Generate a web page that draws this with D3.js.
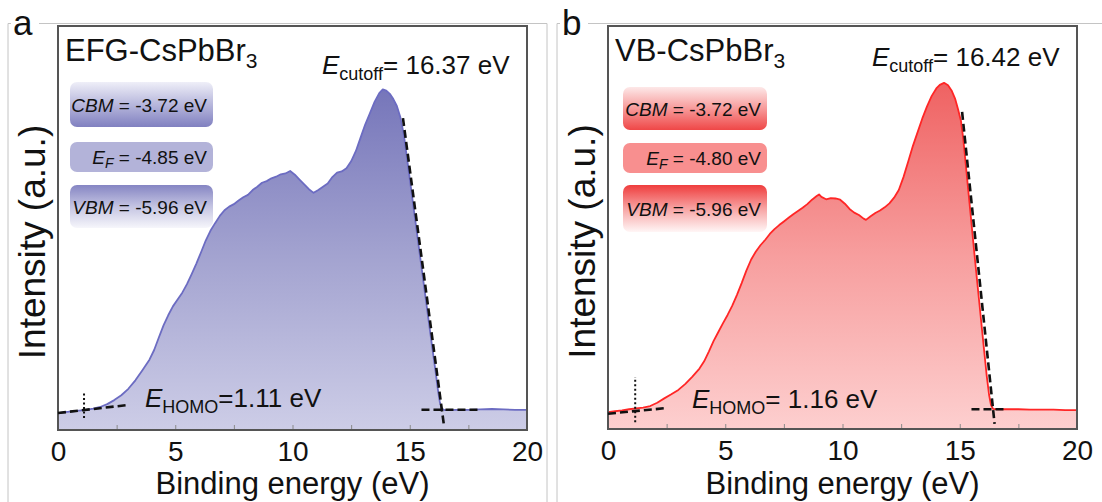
<!DOCTYPE html>
<html>
<head>
<meta charset="utf-8">
<script src="https://cdn.jsdelivr.net/npm/d3@7"></script>
<style>
  html, body { margin: 0; padding: 0; background: #fff; }
  svg text { font-family: "Liberation Sans", Arial, sans-serif; fill: #111; }
</style>
</head>
<body>
<svg id="chart" width="1102" height="502"></svg>
<script>
// UPS spectra: binding energy (eV) vs. intensity (a.u.)
const energyA = [0.00,0.30,0.60,0.90,1.20,1.50,1.80,2.10,2.40,2.70,3.00,3.30,3.60,3.90,4.10,4.30,4.50,4.70,4.90,5.10,5.30,5.50,5.70,5.90,6.10,6.30,6.50,6.70,6.90,7.10,7.30,7.50,7.70,7.90,8.10,8.30,8.50,8.70,8.90,9.10,9.30,9.50,9.70,9.90,10.10,10.30,10.50,10.70,10.90,11.10,11.30,11.50,11.70,11.90,12.10,12.30,12.50,12.70,12.90,13.10,13.30,13.50,13.70,13.85,14.00,14.15,14.30,14.45,14.60,14.75,14.90,15.05,15.20,15.35,15.50,15.65,15.80,15.95,16.10,16.20,16.28,16.36,16.50,17.00,17.50,18.00,18.50,19.00,19.50,20.00];
const intensityA = [4.2,4.4,4.6,4.8,5.0,5.3,5.7,6.4,7.4,8.6,10.2,12.3,14.8,17.4,19.8,22.9,25.9,28.4,30.6,32.3,34.0,36.1,38.6,41.2,44.0,46.9,49.3,51.2,53.0,54.4,55.3,55.9,56.8,57.6,58.2,59.4,60.2,61.2,61.6,62.3,62.7,63.3,63.5,64.1,63.2,62.0,60.8,59.6,58.7,59.4,60.2,61.0,62.6,63.7,64.0,64.8,66.5,69.0,72.3,75.6,78.4,81.2,83.4,84.3,84.0,83.2,81.9,80.2,77.4,73.0,66.5,60.0,53.4,46.9,40.4,33.8,27.3,20.8,14.5,10.0,7.0,5.3,4.9,5.0,5.0,5.1,5.2,5.1,5.0,5.0];

const energyB = [0.00,0.30,0.60,0.90,1.20,1.50,1.80,2.10,2.40,2.70,3.00,3.30,3.60,3.90,4.10,4.30,4.50,4.70,4.90,5.10,5.30,5.50,5.70,5.90,6.10,6.30,6.50,6.70,6.90,7.10,7.30,7.50,7.70,7.90,8.10,8.30,8.50,8.70,8.90,9.00,9.10,9.30,9.50,9.70,9.90,10.10,10.30,10.50,10.70,10.90,11.00,11.20,11.40,11.60,11.80,12.00,12.20,12.40,12.60,12.80,13.00,13.20,13.40,13.60,13.80,14.00,14.15,14.33,14.50,14.65,14.80,14.93,15.05,15.15,15.25,15.35,15.45,15.55,15.65,15.75,15.85,15.95,16.05,16.15,16.25,16.33,16.42,16.60,17.00,17.50,18.00,18.50,19.00,19.50,20.00];
const intensityB = [4.2,4.4,4.6,4.9,5.1,5.3,5.7,6.5,7.6,8.6,9.7,11.2,13.0,15.0,16.8,19.2,21.8,24.0,26.2,28.3,30.6,33.3,36.2,39.3,42.0,44.0,45.6,46.9,48.4,49.6,50.6,51.5,52.4,53.3,54.1,54.9,55.8,56.9,57.8,58.2,57.6,57.0,57.3,57.2,56.9,55.9,54.6,53.7,53.1,52.2,51.9,52.8,53.6,54.2,55.0,56.0,57.4,59.3,62.5,66.3,70.2,73.6,77.0,80.0,82.6,84.5,85.4,85.9,85.3,84.0,82.0,79.3,76.5,72.0,66.0,60.0,54.0,48.0,42.0,36.2,30.4,24.6,18.9,13.2,8.5,6.0,5.0,4.9,4.9,4.9,4.8,4.8,4.8,4.7,4.7];

const xTickValues = [0, 2.5, 5, 7.5, 10, 12.5, 15, 17.5, 20];
const panelLetters = ["a", "b"];
const sampleNames = ["EFG-CsPbBr", "VB-CsPbBr"];
const cutoffValues = [16.37, 16.42];
const homoValues = [1.11, 1.16];
const homoLabels = ["=1.11 eV", "= 1.16 eV"];
const cbmValues = ["-3.72", "-3.72"];
const efValues = ["-4.85", "-4.80"];
const vbmValues = ["-5.96", "-5.96"];

// secondary-edge tangent (energy, intensity) top point, baseline level, left baseline fit
const tangentTopE = [14.71, 15.10];
const tangentTopI = [77.2, 78.7];
const edgeBaseI = [5.0, 4.9];
const leftFitE = [3.0, 2.5];
const leftFitI0 = [4.2, 3.8];
const leftFitI1 = [6.2, 5.2];
const rightFitE = [[15.5, 17.9], [15.5, 16.9]];
const homoMarkI = [[3.0, 9.4], [1.7, 12.9]];

const svg = d3.select("#chart");
const defs = svg.append("defs");

// panel layout and palette
const panels = [
  { left: 58, right: 527, top: 26, bottom: 430, frameX: 8,
    line: "#6c6cc2", fillTop: "#7474b9", fillMid: "#a3a3d0", fillBot: "#cdcde7",
    cbm: ["#efeff8", "#b7b7dc", "#8080c0"], ef: "#b3b3d9", vbm: ["#8585c3", "#c4c4e2", "#f6f6fb"],
    boxX: 70, boxW: 143, boxes: [[82, 45], [142, 30], [185, 43]],
    cutX: 322, cutY: 74, homoX: 145, homoY: 407 },
  { left: 608, right: 1077, top: 26, bottom: 429, frameX: 557,
    line: "#ff2626", fillTop: "#ef6262", fillMid: "#f79e9e", fillBot: "#fdcfcf",
    cbm: ["#fde8e8", "#f79a9a", "#ef4747"], ef: "#f88f8f", vbm: ["#ef3d3d", "#f7a3a3", "#fff6f6"],
    boxX: 623, boxW: 144, boxes: [[87, 43], [143, 30], [185, 47]],
    cutX: 872, cutY: 66, homoX: 692, homoY: 408 }
];

const series = [
  energyA.map((e, i) => [e, intensityA[i]]),
  energyB.map((e, i) => [e, intensityB[i]])
];

panels.forEach((p, k) => {
  const x = d3.scaleLinear().domain([0, 20]).range([p.left, p.right]);
  const y = d3.scaleLinear().domain([0, 100]).range([p.bottom, p.top]);
  const g = svg.append("g");

  // light outer border of the panel
  g.append("path")
    .attr("d", `M${p.frameX},502 V${p.top - 2.5} H${k === 0 ? p.frameX + 539 : 1102}` + (k === 0 ? ` V502` : ""))
    .attr("fill", "none").attr("stroke", "#c4c4c4").attr("stroke-width", 1);

  // area gradient
  const gid = "fill" + k;
  const lg = defs.append("linearGradient").attr("id", gid)
    .attr("gradientUnits", "userSpaceOnUse")
    .attr("x1", 0).attr("x2", 0).attr("y1", y(86)).attr("y2", y(0));
  lg.append("stop").attr("offset", "0%").attr("stop-color", p.fillTop);
  lg.append("stop").attr("offset", "50%").attr("stop-color", p.fillMid);
  lg.append("stop").attr("offset", "100%").attr("stop-color", p.fillBot);

  const data = series[k];
  const area = d3.area().x(d => x(d[0])).y0(y(0)).y1(d => y(d[1]));
  g.append("path").datum(data).attr("d", area).attr("fill", `url(#${gid})`);

  const outline = [[0, 0]].concat(data, [[20, 0]]);
  const line = d3.line().x(d => x(d[0])).y(d => y(d[1]));
  g.append("path").datum(outline).attr("d", line)
    .attr("fill", "none").attr("stroke", p.line).attr("stroke-width", 1.8)
    .attr("stroke-linejoin", "round");

  // x axis with inward ticks
  const axis = d3.axisBottom(x).tickValues(xTickValues).tickSize(-5).tickPadding(11)
    .tickFormat(d => (d % 5 === 0 ? d3.format("d")(d) : ""));
  const ax = g.append("g").attr("transform", `translate(0,${p.bottom})`).call(axis);
  ax.select(".domain").remove();
  ax.selectAll(".tick line").attr("stroke", "#8a8a8a").attr("stroke-width", 1);
  ax.selectAll(".tick text").attr("font-size", 28).attr("fill", "#111")
    .style("font-family", '"Liberation Sans", Arial, sans-serif');

  // frame
  g.append("rect").attr("x", p.left).attr("y", p.top)
    .attr("width", p.right - p.left).attr("height", p.bottom - p.top)
    .attr("fill", "none").attr("stroke", "#555").attr("stroke-width", 2);

  // edge fits
  const tLine = (e0, i0, e1, i1, dash, w) => g.append("line")
    .attr("x1", x(e0)).attr("y1", y(i0)).attr("x2", x(e1)).attr("y2", y(i1))
    .attr("stroke", "#111").attr("stroke-width", w).attr("stroke-dasharray", dash);

  // secondary electron cutoff tangent, extended just below the baseline
  const slope = (edgeBaseI[k] - tangentTopI[k]) / (cutoffValues[k] - tangentTopE[k]);
  const iEnd = 1.3;
  const eEnd = cutoffValues[k] + (iEnd - edgeBaseI[k]) / slope;
  tLine(tangentTopE[k], tangentTopI[k], eEnd, iEnd, "8,4", 2.6);
  tLine(rightFitE[k][0], edgeBaseI[k], rightFitE[k][1], edgeBaseI[k], "8,4", 2.6);
  tLine(0, leftFitI0[k], leftFitE[k], leftFitI1[k], "8,4", 2.6);
  tLine(homoValues[k], homoMarkI[k][0], homoValues[k], homoMarkI[k][1], "2,2.5", 2);

  // panel letter over a white patch on the border
  g.append("rect").attr("x", p.frameX + 3).attr("y", 6).attr("width", 28).attr("height", 32).attr("fill", "#fff");
  g.append("text").attr("x", p.frameX + 5).attr("y", 35).attr("font-size", 35).text(panelLetters[k]);

  // sample name
  const title = g.append("text").attr("x", p.left + 7).attr("y", 61).attr("font-size", 31);
  title.append("tspan").text(sampleNames[k]);
  title.append("tspan").attr("font-size", 21).attr("dy", 7).text("3");

  // cutoff label
  const cut = g.append("text").attr("x", p.cutX).attr("y", p.cutY).attr("font-size", 26);
  cut.append("tspan").attr("font-style", "italic").text("E");
  cut.append("tspan").attr("font-size", 18).attr("dy", 6).text("cutoff");
  cut.append("tspan").attr("dy", -6).text("= " + cutoffValues[k].toFixed(2) + " eV");

  // HOMO label
  const homo = g.append("text").attr("x", p.homoX).attr("y", p.homoY).attr("font-size", 26);
  homo.append("tspan").attr("font-style", "italic").text("E");
  homo.append("tspan").attr("font-size", 18).attr("dy", 6).text("HOMO");
  homo.append("tspan").attr("dy", -6).text(homoLabels[k]);

  // energy level boxes
  const boxFill = (id, stops) => {
    const bg = defs.append("linearGradient").attr("id", id).attr("x1", 0).attr("x2", 0).attr("y1", 0).attr("y2", 1);
    stops.forEach((c, j) => bg.append("stop").attr("offset", (j / (stops.length - 1) * 100) + "%").attr("stop-color", c));
    return `url(#${id})`;
  };
  const fills = [boxFill("cbm" + k, p.cbm), p.ef, boxFill("vbm" + k, p.vbm)];
  const names = ["CBM", "E", "VBM"];
  const vals = [cbmValues[k], efValues[k], vbmValues[k]];
  p.boxes.forEach((b, j) => {
    g.append("rect").attr("x", p.boxX).attr("y", b[0]).attr("width", p.boxW).attr("height", b[1])
      .attr("rx", 7).attr("fill", fills[j]);
    const t = g.append("text").attr("x", p.boxX + p.boxW - 6).attr("y", b[0] + b[1] / 2 + 7)
      .attr("font-size", 19).attr("text-anchor", "end");
    t.append("tspan").attr("font-style", "italic").text(names[j]);
    if (j === 1) {
      t.append("tspan").attr("font-style", "italic").attr("font-size", 14).attr("dy", 4).text("F");
      t.append("tspan").attr("dy", -4).text(" = " + vals[j] + " eV");
    } else {
      t.append("tspan").text(" = " + vals[j] + " eV");
    }
  });

  // axis titles
  g.append("text").attr("x", (p.left + p.right) / 2).attr("y", 494).attr("font-size", 31)
    .attr("text-anchor", "middle").text("Binding energy (eV)");
  g.append("text").attr("transform", `translate(${p.left - 13},${(p.top + p.bottom) / 2 + 14}) rotate(-90)`)
    .attr("font-size", 37).attr("text-anchor", "middle").text("Intensity (a.u.)");
});
</script>
</body>
</html>
